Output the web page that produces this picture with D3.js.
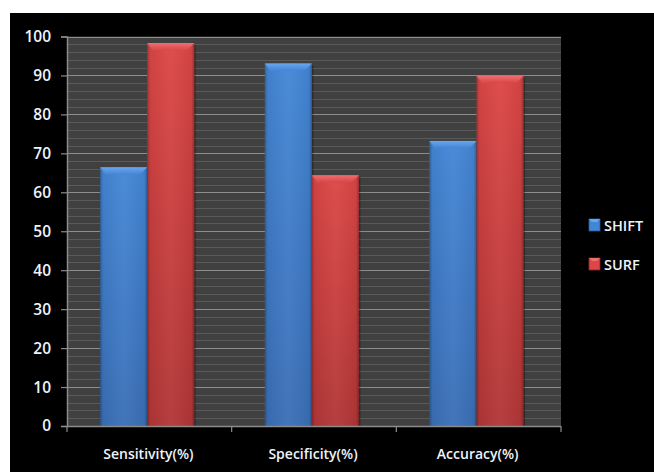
<!DOCTYPE html>
<html>
<head>
<meta charset="utf-8">
<script src="https://cdn.jsdelivr.net/npm/d3@7"></script>
<style>
  html, body { margin: 0; padding: 0; background: #ffffff; }
  svg { display: block; }
  text { font-family: "Open Sans", "Noto Sans", sans-serif; fill: #eef3fb; }
</style>
</head>
<body>
<svg id="chart" width="654" height="472"></svg>
<script>
// Chart data
const categories = ["Sensitivity(%)", "Specificity(%)", "Accuracy(%)"];
const seriesNames = ["SHIFT", "SURF"];
const shiftValues = [66.4, 93.1, 73.2];
const surfValues = [98.3, 64.4, 89.9];
const yTicks = [0, 10, 20, 30, 40, 50, 60, 70, 80, 90, 100];

const seriesValues = { SHIFT: shiftValues, SURF: surfValues };
const seriesColors = {
  SHIFT: { top: "#4486d6", bottom: "#3a6fb6", bevel: "#6aa6ee", edge: "#2d5a96" },
  SURF:  { top: "#dc4646", bottom: "#b23636", bevel: "#ee6e6e", edge: "#8e2626" }
};

const svg = d3.select("#chart");
const W = 654, H = 472;

// black chart canvas
svg.append("rect").attr("x", 10).attr("y", 13).attr("width", W - 10).attr("height", H - 13).attr("fill", "#000");

const plot = { left: 67, right: 561, top: 36.5, bottom: 426 };

const y = d3.scaleLinear().domain([0, 100]).range([plot.bottom, plot.top]);
const x0 = d3.scaleBand().domain(categories).range([plot.left, plot.right]).padding(0);
const x1 = d3.scaleBand().domain(seriesNames).range([0, x0.bandwidth()])
  .paddingInner(0).paddingOuter(0.75).align(0.47);

// plot background
svg.append("rect")
  .attr("x", plot.left).attr("y", plot.top)
  .attr("width", plot.right - plot.left).attr("height", plot.bottom - plot.top)
  .attr("fill", "#404040");

// minor gridlines every 2
const minor = d3.range(2, 100, 2).filter(v => v % 10 !== 0);
svg.append("g").selectAll("line").data(minor).join("line")
  .attr("x1", plot.left).attr("x2", plot.right)
  .attr("y1", d => Math.round(y(d)) + 0.5).attr("y2", d => Math.round(y(d)) + 0.5)
  .attr("stroke", "#5a5a5a").attr("stroke-width", 1);

// major gridlines
svg.append("g").selectAll("line").data(yTicks.filter(v => v > 0)).join("line")
  .attr("x1", plot.left).attr("x2", plot.right)
  .attr("y1", d => Math.round(y(d)) + 0.5).attr("y2", d => Math.round(y(d)) + 0.5)
  .attr("stroke", "#8c8c8c").attr("stroke-width", 1.2);

// gradients
const defs = svg.append("defs");
seriesNames.forEach(s => {
  const c = seriesColors[s];
  const gv = defs.append("linearGradient").attr("id", "gv-" + s)
    .attr("x1", 0).attr("y1", 0).attr("x2", 0).attr("y2", 1);
  gv.append("stop").attr("offset", "0%").attr("stop-color", c.top);
  gv.append("stop").attr("offset", "100%").attr("stop-color", c.bottom);
  const gb = defs.append("linearGradient").attr("id", "gb-" + s)
    .attr("x1", 0).attr("y1", 0).attr("x2", 0).attr("y2", 1);
  gb.append("stop").attr("offset", "0%").attr("stop-color", c.bevel);
  gb.append("stop").attr("offset", "100%").attr("stop-color", c.top);
});
const gh = defs.append("linearGradient").attr("id", "edge-shade")
  .attr("x1", 0).attr("y1", 0).attr("x2", 1).attr("y2", 0);
gh.append("stop").attr("offset", "0%").attr("stop-color", "#000").attr("stop-opacity", 0.28);
gh.append("stop").attr("offset", "6%").attr("stop-color", "#000").attr("stop-opacity", 0.05);
gh.append("stop").attr("offset", "50%").attr("stop-color", "#fff").attr("stop-opacity", 0.04);
gh.append("stop").attr("offset", "94%").attr("stop-color", "#000").attr("stop-opacity", 0.05);
gh.append("stop").attr("offset", "100%").attr("stop-color", "#000").attr("stop-opacity", 0.3);

// bars
const barData = [];
categories.forEach((cat, i) => {
  seriesNames.forEach(s => barData.push({ cat, s, v: seriesValues[s][i] }));
});

const bars = svg.append("g").selectAll("g").data(barData).join("g")
  .attr("transform", d => `translate(${x0(d.cat) + x1(d.s)},0)`);

const bw = x1.bandwidth();
// soft shadow on the right
bars.append("rect")
  .attr("x", 1.5).attr("y", d => y(d.v) + 2)
  .attr("width", bw).attr("height", d => plot.bottom - y(d.v) - 2)
  .attr("fill", "#000").attr("opacity", 0.3);
bars.append("rect")
  .attr("x", 0).attr("y", d => y(d.v))
  .attr("width", bw).attr("height", d => plot.bottom - y(d.v))
  .attr("fill", d => `url(#gv-${d.s})`);
bars.append("rect")
  .attr("x", 0).attr("y", d => y(d.v))
  .attr("width", bw).attr("height", d => plot.bottom - y(d.v))
  .attr("fill", "url(#edge-shade)");
// bevel on top
const bev = 7;
bars.append("path")
  .attr("d", d => {
    const t = y(d.v);
    return `M0,${t}L${bw},${t}L${bw - bev},${t + bev}L${bev},${t + bev}Z`;
  })
  .attr("fill", d => `url(#gb-${d.s})`);
bars.append("path")
  .attr("d", d => {
    const t = y(d.v);
    return `M0,${t}L${bev},${t + bev}L${bev},${t + bev + 1}L0,${t + 2}Z`;
  })
  .attr("fill", "#fff").attr("opacity", 0.1);

// y axis
const yAxis = svg.append("g").attr("transform", `translate(${plot.left},0)`)
  .call(d3.axisLeft(y).tickValues(yTicks).tickSize(6).tickPadding(10).tickFormat(d3.format("d")));
yAxis.select(".domain").attr("stroke", "#8c8c8c").attr("stroke-width", 1.5);
yAxis.selectAll(".tick line").attr("stroke", "#8c8c8c").attr("stroke-width", 1.2);
yAxis.selectAll(".tick text").attr("font-size", 15.5).attr("font-weight", 600)
  .attr("fill", "#eef3fb").style("font-family", '"Open Sans", sans-serif');

// x axis with ticks at category boundaries
const xAxisG = svg.append("g").attr("transform", `translate(0,${plot.bottom})`);
xAxisG.append("line").attr("x1", plot.left).attr("x2", plot.right).attr("y1", 0.5).attr("y2", 0.5)
  .attr("stroke", "#8c8c8c").attr("stroke-width", 1.5);
const bounds = categories.map(c => x0(c)).concat([plot.right]);
xAxisG.selectAll("line.b").data(bounds).join("line").attr("class", "b")
  .attr("x1", d => d).attr("x2", d => d).attr("y1", 0).attr("y2", 6)
  .attr("stroke", "#8c8c8c").attr("stroke-width", 1.2);
xAxisG.selectAll("text").data(categories).join("text")
  .attr("x", d => x0(d) + x0.bandwidth() / 2 - 1)
  .attr("y", 28).attr("dy", "0.35em")
  .attr("text-anchor", "middle").attr("font-size", 14).attr("font-weight", 600)
  .text(d => d);

// legend
const legend = svg.append("g").attr("transform", "translate(589,219)");
const li = legend.selectAll("g").data(seriesNames).join("g")
  .attr("transform", (d, i) => `translate(0,${i * 39})`);
li.append("rect").attr("width", 11).attr("height", 12)
  .attr("fill", d => seriesColors[d].top).attr("stroke", d => seriesColors[d].edge).attr("stroke-width", 0.8);
li.append("path").attr("d", "M0,0L11,0L8,3L3,3Z").attr("fill", d => seriesColors[d].bevel);
li.append("text").attr("x", 15).attr("y", 7).attr("dy", "0.35em")
  .attr("font-size", 14.5).attr("font-weight", 600).text(d => d);
</script>
</body>
</html>
